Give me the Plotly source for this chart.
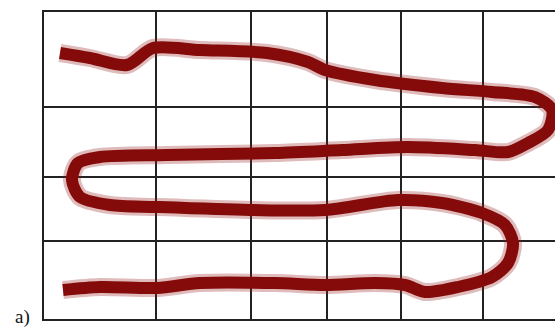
import plotly.graph_objects as go

# Path of the trajectory, in plot units
path_x = [16, 46, 83, 109, 156, 223, 264, 281, 331, 398, 448, 491, 508, 504, 484, 464,
          431, 364, 298, 231, 123, 56, 34, 28, 36, 66, 113, 206, 281, 354, 398, 438,
          461, 469, 464, 448, 414, 381, 361, 331, 281, 231, 156, 113, 56, 19]
path_y = [266, 261, 254, 271, 269, 266, 257, 249, 239, 231, 227, 222, 209, 189, 176, 167,
          169, 172, 169, 166, 164, 162, 156, 139, 122, 114, 112, 109, 109, 119, 116, 106,
          94, 76, 56, 42, 32, 27, 34, 36, 34, 36, 36, 31, 32, 29]

grid_x = [112, 207, 283, 357, 439]
grid_y = [78, 142.5, 212]
x_range = [0, 511]
y_range = [0, 307]

fig = go.Figure()
fig.add_trace(go.Scatter(x=path_x, y=path_y, mode="lines",
                         line=dict(color="rgba(150,30,30,0.3)", width=18, shape="spline", smoothing=0.8),
                         hoverinfo="skip", showlegend=False))
fig.add_trace(go.Scatter(x=path_x, y=path_y, mode="lines",
                         line=dict(color="#850b0b", width=12, shape="spline", smoothing=0.8),
                         showlegend=False))

fig.update_xaxes(range=x_range, tickvals=grid_x, showticklabels=False, ticks="",
                 showgrid=True, gridcolor="#222222", gridwidth=1.5,
                 showline=True, linecolor="#222222", linewidth=2, mirror=True,
                 zeroline=False, fixedrange=True)
fig.update_yaxes(range=y_range, tickvals=grid_y, showticklabels=False, ticks="",
                 showgrid=True, gridcolor="#222222", gridwidth=1.5,
                 showline=True, linecolor="#222222", linewidth=2, mirror=False,
                 zeroline=False, fixedrange=True)

fig.add_annotation(text="a)", xref="paper", yref="paper", x=-0.043, y=0.005,
                   xanchor="center", yanchor="middle", showarrow=False,
                   font=dict(family="Liberation Serif", size=19, color="#111111"))

fig.update_layout(width=555, height=328, margin=dict(l=44, r=0, t=12, b=9),
                  plot_bgcolor="white", paper_bgcolor="white")

fig.write_html("out.html", config={"displayModeBar": False},
               post_script="document.body.style.margin='0';document.body.style.overflow='hidden';")
